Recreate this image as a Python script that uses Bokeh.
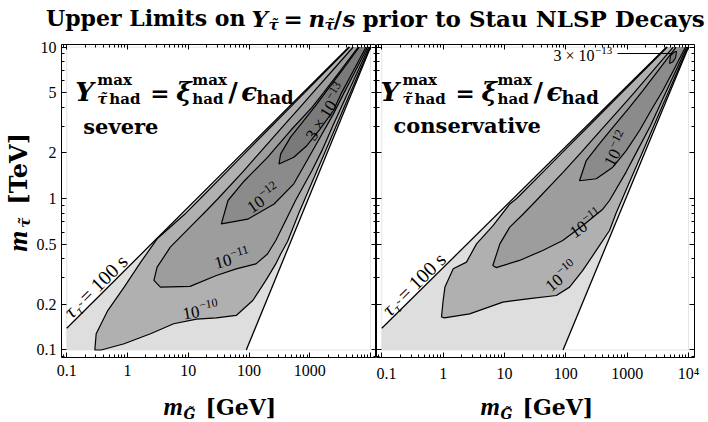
import math
from bokeh.plotting import figure
from bokeh.models import Label, LogAxis, FixedTicker, CustomJSTickFormatter, Range1d
from bokeh.layouts import row, column
from bokeh.embed import file_html
from bokeh.resources import INLINE

# ---------------- data ----------------
X_RANGE = (0.082, 12500.0)
Y_RANGE = (0.0892, 10.39)
X_MAJOR = [0.1, 1, 10, 100, 1000, 10000]
X_MINOR = [0.09, 0.2, 0.3, 0.4, 0.5, 0.6, 0.7, 0.8, 0.9,
           2, 3, 4, 5, 6, 7, 8, 9, 20, 30, 40, 50, 60, 70, 80, 90,
           200, 300, 400, 500, 600, 700, 800, 900,
           2000, 3000, 4000, 5000, 6000, 7000, 8000, 9000]
Y_MAJOR = [0.1, 0.2, 0.5, 1, 2, 5, 10]
Y_MINOR = [0.09, 0.3, 0.4, 0.6, 0.7, 0.8, 0.9, 3, 4, 6, 7, 8, 9]

BOX_X = [0.1, 10000.0]          # scanned region
BOX_Y = [0.1, 10.0]
TAU_X = [0.1, 4390.0]           # tau_stau = 100 s line
TAU_Y = [0.139, 10.0]
KIN_X = [90.0, 10000.0]         # kinematic boundary
KIN_Y = [0.1, 10.0]

# severe panel: contour curves (open, from upper-left end round to upper-right end)
SEV_E10_X = [4500, 1875, 821, 474, 234, 86.4, 42.7, 15.8, 9.1, 3.07, 1.65, 0.88, 0.473, 0.305,
             0.29, 0.37, 0.88, 2.39, 5.74, 13.7, 29, 61.5, 115, 189, 275, 331, 430, 658, 836,
             1289, 1752, 2700, 3670, 4660, 6670, 9760]
SEV_E10_Y = [10, 7, 5, 4, 3, 2, 1.5, 1, 0.8, 0.542, 0.38, 0.26, 0.182, 0.128,
             0.1, 0.1, 0.11, 0.128, 0.149, 0.16, 0.163, 0.169, 0.212, 0.288, 0.37, 0.43, 0.52, 0.8, 1,
             1.5, 2, 3, 4, 5, 7, 10]
SEV_E11_X = [5176, 2358, 1123, 687, 364, 149, 79, 31, 20, 10.7, 5.06, 3.07, 2.72, 3.48, 10.7, 29,
             61.5, 130, 201, 275, 353, 581, 1085, 1580, 2371, 3292, 4247, 6235, 9365]
SEV_E11_Y = [10, 7, 5, 4, 3, 2, 1.5, 1, 0.833, 0.647, 0.477, 0.352, 0.288, 0.26, 0.263, 0.31,
             0.343, 0.37, 0.43, 0.528, 0.647, 0.97, 1.53, 2.07, 3, 4, 5, 7, 10]
SEV_E12_X = [6257, 3217, 1687, 1085, 482, 201, 84, 45, 35, 95, 258, 545, 900, 1482, 2443, 3664, 5673, 8915]
SEV_E12_Y = [10, 7, 5, 4, 2.81, 1.87, 1.31, 0.97, 0.68, 0.73, 0.92, 1.25, 1.78, 2.54, 3.62, 5, 7, 10]
SEV_3E13_X = [6520, 3396, 1905, 1310, 793, 482, 331, 311, 545, 900, 1482, 2443, 3340, 5231, 8415]
SEV_3E13_Y = [10, 7, 5.16, 4.22, 3.27, 2.54, 1.97, 1.69, 1.87, 2.24, 2.88, 3.81, 5, 7, 10]

# conservative panel
CON_E10_X = [4500, 1875, 821, 474, 234, 86.4, 42.7, 15.8, 12.2, 6.55, 3.5, 2.4, 1.46, 1.07, 1.0,
             0.94, 1.05, 2.7, 9.4, 25.6, 70, 115, 189, 313, 515, 658, 836, 1289, 1752, 2700,
             3670, 4660, 6670, 9760]
CON_E10_Y = [10, 7, 5, 4, 3, 2, 1.5, 1, 0.92, 0.664, 0.502, 0.38, 0.344, 0.26, 0.212,
             0.165, 0.163, 0.173, 0.207, 0.218, 0.229, 0.26, 0.335, 0.454, 0.615, 0.8, 1, 1.5, 2, 3,
             4, 5, 7, 10]
CON_E11_X = [5620, 2663, 1302, 800, 426, 175, 91.4, 33, 20.2, 12.2, 8.4, 6.46, 7.3, 17.6, 42, 89,
             189, 400, 515, 964, 1400, 2371, 3292, 4247, 6235, 9365]
CON_E11_Y = [10, 7, 5, 4, 3, 2, 1.5, 0.97, 0.79, 0.647, 0.502, 0.361, 0.35, 0.39, 0.454, 0.528,
             0.664, 0.85, 0.97, 1.5, 2, 3, 4, 5, 7, 10]
CON_E12_X = [6257, 3217, 1800, 1090, 583, 354, 215, 167, 313, 583, 965, 1590, 2620, 3810, 5673, 8915]
CON_E12_Y = [10, 7, 5.16, 4.0, 2.95, 2.3, 1.78, 1.31, 1.35, 1.61, 2.07, 2.81, 4.0, 5.16, 7, 10]
CON_3E13_X = [4900, 5500, 6140, 6370, 5900, 5080]      # small closed island
CON_3E13_Y = [7.78, 7.95, 8.5, 9.34, 9.3, 8.79]

LIGHT = "#dedede"
SHADES = ["#b0b0b0", "#9d9d9d", "#8b8b8b", "#7a7a7a"]
SERIF = "Liberation Serif"
BOLD = "DejaVu Serif"
BASE_FIX = 0.23      # the renderer sets alphabetic text this many em low; lift it back

# ---------------- page geometry (pixels) ----------------
TITLE_H = 38
ROW_H = 346
BOTTOM_H = 38
STRIP_W = 33
FRAME_TOP, FRAME_H = 44, 313
P1 = (58, 318)
P2 = (376, 318)


def to_data(px, py, panel):
    left, width = panel
    lx0, lx1 = math.log10(X_RANGE[0]), math.log10(X_RANGE[1])
    ly0, ly1 = math.log10(Y_RANGE[0]), math.log10(Y_RANGE[1])
    x = 10 ** (lx0 + (px - left) / width * (lx1 - lx0))
    y = 10 ** (ly1 - (py - FRAME_TOP) / FRAME_H * (ly1 - ly0))
    return x, y


def put(p, x, y, pieces, angle_deg=0.0, align="left"):
    a = math.radians(angle_deg)
    c, s = math.cos(a), math.sin(a)
    for text, dx, dy, size, font, style in pieces:
        dy2 = dy + BASE_FIX * size
        p.add_layout(Label(x=x, y=y, text=text, x_offset=dx * c - dy2 * s, y_offset=dx * s + dy2 * c,
                           angle=a, text_font=font, text_font_size=f"{size}px",
                           text_font_style=style, text_color="black",
                           text_align=align, text_baseline="alphabetic"))


def put_px(p, px, py, panel, pieces, angle_deg=0.0):
    x, y = to_data(px, py, panel)
    put(p, x, y, pieces, angle_deg)


def style_axis(ax, show, standoff):
    ax.axis_line_color = None
    ax.major_tick_in, ax.major_tick_out = 5, 0
    ax.minor_tick_in, ax.minor_tick_out = 3, 0
    ax.major_tick_line_color = "black"
    ax.minor_tick_line_color = "black"
    ax.major_label_text_font = SERIF
    ax.major_label_text_font_size = "16px" if show else "0px"
    ax.major_label_text_color = "black"
    ax.major_label_standoff = standoff


def bare_axis(ticks, minor, loc):
    ax = LogAxis(ticker=FixedTicker(ticks=ticks, minor_ticks=minor),
                 formatter=CustomJSTickFormatter(code="return '';"), fixed_location=loc)
    style_axis(ax, False, 0)
    return ax


def panel(width, bl, br, x_code, show_y):
    p = figure(width=width, height=ROW_H, x_axis_type="log", y_axis_type="log",
               x_range=Range1d(*X_RANGE), y_range=Range1d(*Y_RANGE),
               y_axis_location="left" if show_y else None,
               output_backend="svg", toolbar_location=None,
               min_border_left=bl, min_border_right=br, min_border_top=6, min_border_bottom=27)
    p.grid.visible = False
    p.outline_line_color = "black"
    p.outline_line_width = 1
    xa = p.xaxis[0]
    xa.ticker = FixedTicker(ticks=X_MAJOR, minor_ticks=X_MINOR)
    xa.formatter = CustomJSTickFormatter(code=x_code)
    style_axis(xa, True, 7)
    if show_y:
        ya = p.yaxis[0]
        ya.ticker = FixedTicker(ticks=Y_MAJOR, minor_ticks=Y_MINOR)
        ya.formatter = CustomJSTickFormatter(code="return tick.toString();")
        style_axis(ya, True, 5)
    else:
        p.add_layout(bare_axis(Y_MAJOR, Y_MINOR, X_RANGE[0]), "left")
    p.add_layout(bare_axis(X_MAJOR, X_MINOR, Y_RANGE[1]), "above")
    p.add_layout(bare_axis(Y_MAJOR, Y_MINOR, X_RANGE[1]), "right")
    return p


def strip(width, height):
    f = figure(width=width, height=height, x_range=Range1d(0, width), y_range=Range1d(0, height),
               output_backend="svg", toolbar_location=None, min_border=0,
               x_axis_location=None, y_axis_location=None)
    f.grid.visible = False
    f.outline_line_color = None
    return f


def draw_wedge(p, curves, closed_last=False):
    bx = [BOX_X[0], BOX_X[0], BOX_X[1], BOX_X[1], BOX_X[0]]
    by = [BOX_Y[0], BOX_Y[1], BOX_Y[1], BOX_Y[0], BOX_Y[0]]
    p.line(bx, by, line_color="#e4e4e4", line_width=1)
    wx = [BOX_X[0]] + TAU_X + KIN_X[::-1]
    wy = [BOX_Y[0]] + TAU_Y + KIN_Y[::-1]
    p.patch(wx, wy, fill_color=LIGHT, line_color=None)
    for (cx, cy), col in zip(curves, SHADES):
        p.patch(cx, cy, fill_color=col, line_color=None)
    for i, (cx, cy) in enumerate(curves):
        if closed_last and i == len(curves) - 1:
            p.line(cx + cx[:1], cy + cy[:1], line_color="black", line_width=1.1)
        else:
            p.line(cx, cy, line_color="black", line_width=1.2)
    p.line(TAU_X, TAU_Y, line_color="black", line_width=1.3)
    p.line(KIN_X, KIN_Y, line_color="black", line_width=1.3)


def formula(p, px, py, pn):
    put_px(p, px, py, pn, [
        ("Y", 0, 0, 26, BOLD, "bold italic"),
        ("max", 22, 14, 15, BOLD, "bold"),
        ("\u03c4\u0303", 22, -5, 15, BOLD, "bold italic"),
        ("had", 34, -5, 15, BOLD, "bold"),
        ("=", 75, 0, 23, BOLD, "bold"),
        ("\u03be", 101, 0, 26, BOLD, "bold italic"),
        ("max", 117, 14, 15, BOLD, "bold"),
        ("had", 117, -5, 15, BOLD, "bold"),
        ("/", 153, 0, 26, BOLD, "bold"),
        ("\u03f5", 166, 0, 26, BOLD, "bold italic"),
        ("had", 181, -4, 18, BOLD, "bold"),
    ])


def clabel(p, px, py, pn, mant, wm, exp, angle):
    w = wm + 0.5 + 18.5
    put_px(p, px, py, pn, [
        (mant, -w / 2, -5.5, 17, SERIF, "normal"),
        (exp, -w / 2 + wm + 0.5, 1.5, 12, SERIF, "normal"),
    ], angle)


def tau_label(p, px, py, pn):
    put_px(p, px, py, pn, [
        ("\u03c4", 0, 0, 20, SERIF, "italic"),
        ("\u03c4\u0303", 9, -4, 13, SERIF, "italic"),
        ("= 100 s", 21, 0, 20, SERIF, "normal"),
    ], 44.6)


# ---------------- left panel: severe ----------------
p1 = panel(343, 25, 0, "return tick >= 9999 ? '' : tick.toString();", True)
draw_wedge(p1, [(SEV_E10_X, SEV_E10_Y), (SEV_E11_X, SEV_E11_Y),
                (SEV_E12_X, SEV_E12_Y), (SEV_3E13_X, SEV_3E13_Y)])
formula(p1, 72, 97, P1)
put_px(p1, 80, 131, P1, [("severe", 0, 0, 21, BOLD, "bold")])
tau_label(p1, 67, 317, P1)
clabel(p1, 198, 309, P1, "10", 17, "\u221210", 10)
clabel(p1, 230, 257, P1, "10", 17, "\u221211", 15)
clabel(p1, 261, 197, P1, "10", 17, "\u221212", 35)
clabel(p1, 324, 111, P1, "3 \u00d7 10", 43.5, "\u221213", 58)

# ---------------- right panel: conservative ----------------
p2 = panel(332, 0, 14, "return tick >= 9999 ? '10\u2074' : tick.toString();", False)
draw_wedge(p2, [(CON_E10_X, CON_E10_Y), (CON_E11_X, CON_E11_Y),
                (CON_E12_X, CON_E12_Y), (CON_3E13_X, CON_3E13_Y)], closed_last=True)
formula(p2, 380, 97, P2)
put_px(p2, 393, 130, P2, [("conservative", 0, 0, 21, BOLD, "bold")])
tau_label(p2, 388, 315, P2)
clabel(p2, 560, 275, P2, "10", 17, "\u221210", 40)
clabel(p2, 585, 222, P2, "10", 17, "\u221211", 35)
clabel(p2, 615, 148, P2, "10", 17, "\u221212", 62)
put_px(p2, 553, 59, P2, [("3 \u00d7 10", 0, 0, 16, SERIF, "normal"),
                         ("\u221213", 41.5, 6.5, 11, SERIF, "normal")])
lx0, ly0 = to_data(617, 53, P2)
lx1, ly1 = to_data(672, 53, P2)
p2.line([lx0, lx1], [ly0, ly1], line_color="black", line_width=1)

# ---------------- y-axis title strip (left) ----------------
ys = strip(STRIP_W, ROW_H)
put(ys, 24, TITLE_H + ROW_H - 267, [
    ("m", 0, 0, 27, SERIF, "bold italic"),
    ("\u03c4\u0303", 24, -4, 15, BOLD, "bold italic"),
    ("[TeV]", 47, 0, 24, BOLD, "bold"),
], 90)

# ---------------- x-axis titles strip (bottom) ----------------
xs = strip(708, BOTTOM_H)
for px0 in (163, 480):
    put(xs, px0, 422 - 412, [
        ("m", 0, 0, 25, SERIF, "bold italic"),
        ("G\u0303", 20, -5, 14, BOLD, "bold italic"),
        ("[GeV]", 42, 0, 22, BOLD, "bold"),
    ])

# ---------------- title ----------------
t = strip(708, TITLE_H)
TY = TITLE_H - 23
put(t, 245, TY, [("Upper Limits on", 0, 0, 22, BOLD, "bold")], align="right")
put(t, 251, TY, [
    ("Y", 0, 0, 23, BOLD, "bold italic"),
    ("\u03c4\u0303", 17, -5, 15, BOLD, "bold italic"),
    ("=", 32, 0, 23, BOLD, "bold"),
    ("n", 57, 0, 23, BOLD, "bold italic"),
    ("\u03c4\u0303", 73, -5, 15, BOLD, "bold italic"),
    ("/", 82, 0, 23, BOLD, "bold"),
    ("s", 91, 0, 23, BOLD, "bold italic"),
])
put(t, 362, TY, [("prior to Stau NLSP Decays", 0, 0, 23, BOLD, "bold")])

layout = column(t, row(ys, p1, p2), xs)
open("out.html", "w").write(file_html(layout, INLINE))
